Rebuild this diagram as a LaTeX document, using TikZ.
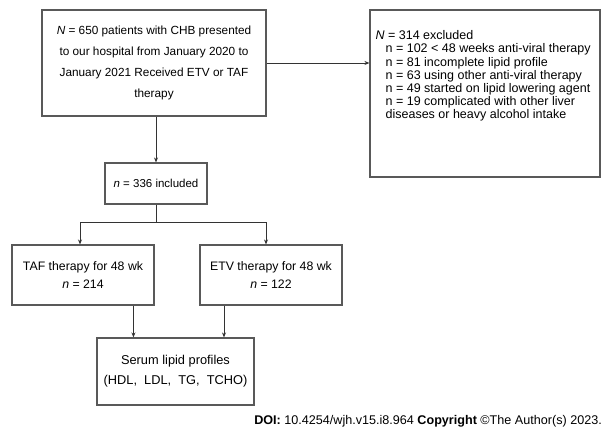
\documentclass[tikz,border=0pt]{standalone}
\usepackage{fontspec}
\setmainfont{Liberation Sans}
\usetikzlibrary{arrows.meta}

\begin{document}
\begin{tikzpicture}[x=1pt, y=-1pt,
    box/.style={draw=black!65, line width=1.1pt, align=center, inner sep=2pt,
      font=\fontsize{11.5}{13.3}\selectfont},
    flow/.style={draw=black!80, line width=0.9pt, -{Stealth[length=5pt, width=4pt]}},
    link/.style={draw=black!80, line width=0.9pt}]

  \useasboundingbox (0,0) rectangle (603,427);

  % Boxes
  \node[box, minimum width=224pt, minimum height=106pt, font=\fontsize{11.8}{21}\selectfont]
    (all) at (154,63)
    {\textit{N} = 650 patients with CHB presented\\ to our hospital from January 2020 to\\
     January 2021 Received ETV or TAF\\ therapy};
  \node[box, minimum width=230pt, minimum height=167pt] (excl) at (485,93.5) {};
  \node[anchor=north west, align=left, inner sep=0pt, font=\fontsize{12.5}{13.2}\selectfont]
    (excltext) at ([shift={(6,21)}]excl.north west)
    {\textit{N} = 314 excluded\\
     \hspace{10pt}n = 102 < 48 weeks anti-viral therapy\\
     \hspace{10pt}n = 81 incomplete lipid profile\\
     \hspace{10pt}n = 63 using other anti-viral therapy\\
     \hspace{10pt}n = 49 started on lipid lowering agent\\
     \hspace{10pt}n = 19 complicated with other liver\\
     \hspace{10pt}diseases or heavy alcohol intake};
  \node[box, minimum width=102pt, minimum height=41pt] (incl) at (156,183.5)
    {\textit{n} = 336 included};
  \node[box, minimum width=142pt, minimum height=60pt, font=\fontsize{12.3}{18}\selectfont]
    (taf) at (83,275) {TAF therapy for 48 wk\\ \textit{n} = 214};
  \node[box, minimum width=142pt, minimum height=60pt, font=\fontsize{12.3}{18}\selectfont]
    (etv) at (271,275) {ETV therapy for 48 wk\\ \textit{n} = 122};
  \node[box, minimum width=157pt, minimum height=67pt, font=\fontsize{12.8}{20}\selectfont]
    (serum) at (175.5,371.5) {Serum lipid profiles\\ (HDL,\ \ LDL,\ \ TG,\ \ TCHO)};

  % Split point
  \coordinate (split) at (156,222);

  % Connectors
  \draw[flow] (all.east) -- (excl.west |- all.east);
  \draw[flow] (all.south -| incl.north) -- (incl.north);
  \draw[link] (incl.south) -- (split);
  \draw[flow] (split) -| ([xshift=-3pt]taf.north);
  \draw[flow] (split) -| ([xshift=-5pt]etv.north);
  \draw[flow] (taf.south -| serum.north west) ++(37,0) coordinate (t) -- (t |- serum.north);
  \draw[flow] (etv.south -| 224,0) coordinate (e) -- (e |- serum.north);

  %\draw (serum.south) -- (serum.south east);
  \node[anchor=east, inner sep=0pt, font=\fontsize{12.6}{14}\selectfont] (doi) at (602,421)
    {\textbf{DOI:} 10.4254/wjh.v15.i8.964 \textbf{Copyright} ©The Author(s) 2023.};
\end{tikzpicture}
\end{document}
